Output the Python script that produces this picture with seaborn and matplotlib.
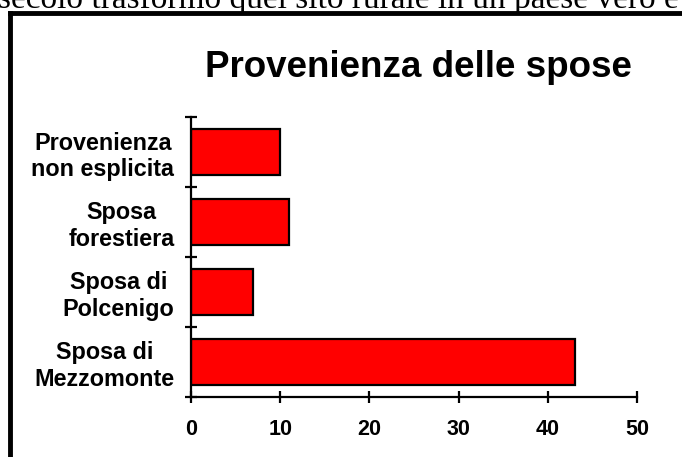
import matplotlib
matplotlib.use('Agg')
import matplotlib.pyplot as plt
import seaborn as sns
import pandas as pd
from matplotlib.lines import Line2D

# data
categorie = ['Provenienza\nnon esplicita', 'Sposa\nforestiera', 'Sposa di\nPolcenigo', 'Sposa di\nMezzomonte']
spose = [10, 11, 7, 43]
xticks = [0, 10, 20, 30, 40, 50]

df = pd.DataFrame({'categoria': categorie, 'spose': spose})

sns.set_style('white')
plt.rcParams['font.family'] = ['Liberation Sans', 'DejaVu Sans']
plt.rcParams['text.color'] = 'black'
plt.rcParams['xtick.color'] = 'black'
plt.rcParams['ytick.color'] = 'black'

fig = plt.figure(figsize=(6.82, 4.57), dpi=100)
ax = fig.add_axes([191/682, 1 - 397/457, (637 - 191)/682, (397 - 117)/457])

sns.barplot(data=df, x='spose', y='categoria', orient='h', color='#ff0000',
            saturation=1, edgecolor='black', linewidth=1.6, width=0.67, ax=ax)

ax.set_xlim(0, 50)
ax.set_ylim(3.5, -0.5)
ax.set_xticks(xticks)
ax.set_xticklabels([str(t) for t in xticks], fontsize=15.5, fontweight='bold')
ax.set_yticks(range(len(categorie)))
ax.set_yticklabels(categorie, fontsize=16.8, fontweight='bold', multialignment='center')
ax.set_yticks([-0.5, 0.5, 1.5, 2.5, 3.5], minor=True)
ax.tick_params(axis='y', which='major', left=True, length=0, pad=12)
ax.tick_params(axis='y', which='minor', left=True, direction='inout', length=9, width=1.6, color='black')
ax.tick_params(axis='x', which='major', bottom=True, direction='inout', length=9, width=1.6,
               color='black', pad=11)
ax.set_xlabel('')
ax.set_ylabel('')
for s in ['top', 'right']:
    ax.spines[s].set_visible(False)
for s in ['left', 'bottom']:
    ax.spines[s].set_color('black')
    ax.spines[s].set_linewidth(1.6)

fig.text(418/682, 1 - 77/457, 'Provenienza delle spose', ha='center', va='baseline',
         fontsize=26.5, fontweight='bold')

# testo della pagina, tagliato in alto
fig.text(-2/682, 1 - 8/457, 'secolo trasformò quel sito rurale in un paese vero e proprio',
         ha='left', va='baseline', fontsize=24, family='Liberation Serif')

# cornice
fig.add_artist(Line2D([9.5/682, 1], [1 - 12.5/457, 1 - 12.5/457], color='black', lw=3.5,
                      transform=fig.transFigure, solid_capstyle='projecting'))
fig.add_artist(Line2D([9.5/682, 9.5/682], [0, 1 - 12.5/457], color='black', lw=3.5,
                      transform=fig.transFigure, solid_capstyle='projecting'))

fig.savefig('out.png', dpi=100)
